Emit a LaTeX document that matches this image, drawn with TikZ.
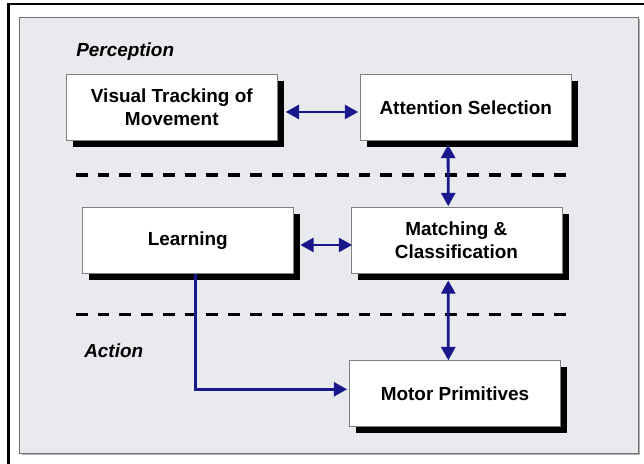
\documentclass[tikz,border=0pt]{standalone}
\usepackage{fontspec}
\setmainfont{Liberation Sans}
\usepackage{tikz}
\usetikzlibrary{arrows.meta,shadows}

\definecolor{panelgray}{RGB}{233,234,237}
\definecolor{edgegray}{RGB}{112,112,112}
\definecolor{linkblue}{RGB}{24,24,140}

\tikzset{
  block/.style={draw=gray, line width=0.6pt, fill=white, inner sep=0pt,
    minimum width=158.25pt, minimum height=49.5pt, align=center,
    font=\fontsize{14.2}{16.8}\selectfont\bfseries,
    drop shadow={shadow xshift=5pt, shadow yshift=-5pt, fill=black, opacity=1}},
  layer/.style={anchor=west, inner sep=0pt, font=\fontsize{14.2}{16.8}\selectfont\bfseries\itshape},
  link/.style={draw=linkblue, line width=2.1pt},
  split/.style={line width=2.6pt, dash pattern=on 8.8pt off 7.5pt},
  >={Triangle[length=10pt,width=10.5pt]}
}

\begin{document}
\begin{tikzpicture}[x=0.75pt, y=-0.75pt]

    \useasboundingbox (0,0) rectangle (644,464);
    \clip (0,0) rectangle (644,464);

    \draw[line width=1.8pt] (8.6,4.3) rectangle (700,520);



    \fill[gray!60] (21.5,19) rectangle (640,455);

    \draw[edgegray, fill=panelgray, line width=0.75pt] (19.5,17) rectangle (638,453);



    \node[layer] (perc) at (76,52) {Perception};

    \node[layer] (act) at (84,351) {Action};



    \draw[split] (76,175) -- (569.5,175);

    \draw[split] (76,314.5) -- (569.5,314.5);



    \node[block] (vis) at (171.8,107.3) {Visual Tracking of\\Movement};

    \node[block] (att) at (465.8,107.3) {Attention Selection};

    \node[block] (lrn) at (187.8,240.3) {Learning};

    \node[block] (match) at (456.4,240.3) {Matching \&\\Classification};

    \node[block] (motor) at (455,393.7) {Motor Primitives};



    \draw[link, <->, shorten <=6pt, shorten >=1.3pt]
      ([yshift=-3.5pt]vis.east) -- ([yshift=-3.5pt]att.west);

    \draw[link, <->, shorten <=3pt, shorten >=0.5pt]
      ([xshift=-13.3pt]att.south) -- ([xshift=-6.1pt]match.north);

    \draw[link, <->, shorten <=5pt, shorten >=-1.2pt]
      ([yshift=-3.5pt]lrn.east) -- ([yshift=-3.5pt]match.west);

    \draw[link, <->, shorten <=5pt]
      ([xshift=-6.1pt]match.south) -- ([xshift=-5pt]motor.north);

    \draw[link, ->, shorten >=1.5pt]
      ([xshift=5.9pt]lrn.south) |- ([yshift=3.3pt]motor.west);

  \end{tikzpicture}
\end{document}
